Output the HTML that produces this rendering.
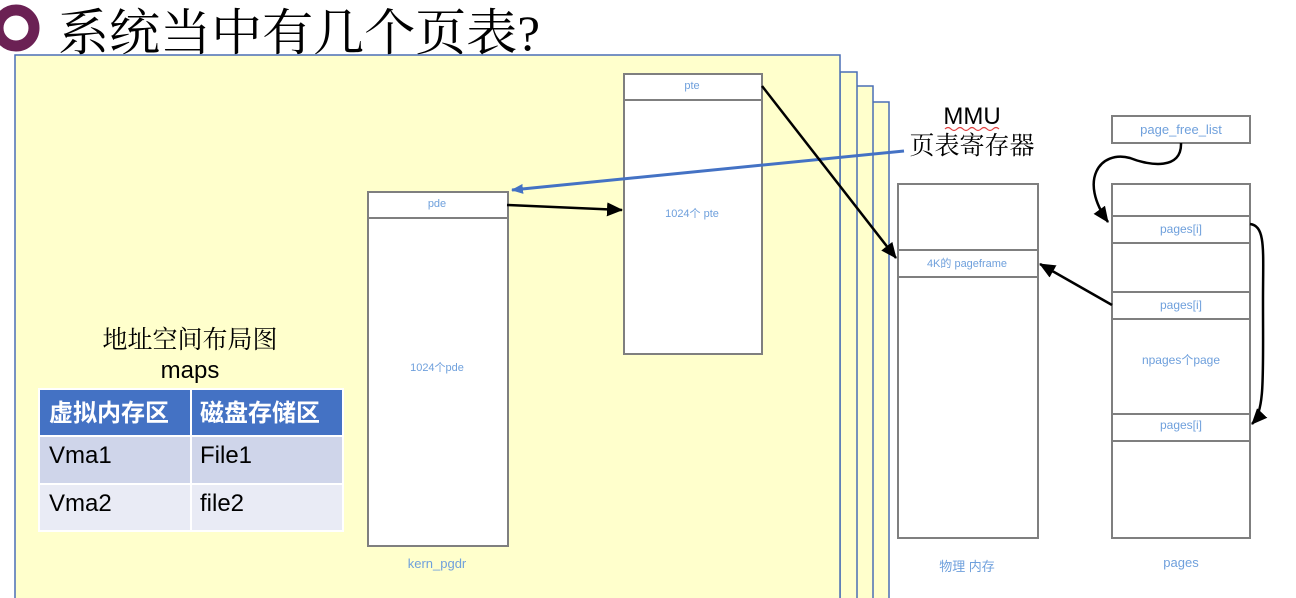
<!DOCTYPE html>
<html><head><meta charset="utf-8"><style>
html,body{margin:0;padding:0;background:#fff;width:1296px;height:598px;overflow:hidden}
svg text{font-family:"Liberation Sans","Noto Sans CJK SC",sans-serif}
svg text.serif{font-family:"Liberation Serif","Noto Serif CJK SC",serif}
svg text.bold{font-family:"Liberation Sans","Noto Sans CJK SC",sans-serif;font-weight:bold}
</style></head><body>
<svg width="1296" height="598" viewBox="0 0 1296 598" xmlns="http://www.w3.org/2000/svg">
<defs>
<marker id="abb" markerWidth="16" markerHeight="14" refX="15" refY="7" orient="auto" markerUnits="userSpaceOnUse"><path d="M0,0 L16,7 L0,14 z" fill="#000"/></marker>
<marker id="ablue" markerWidth="12" markerHeight="10" refX="11" refY="5" orient="auto" markerUnits="userSpaceOnUse"><path d="M0,0 L12,5 L0,10 z" fill="#4472c4"/></marker>
</defs>
<!-- title -->
<circle cx="16" cy="28" r="18" fill="none" stroke="#6b2154" stroke-width="11"/>
<text class="serif" x="58" y="50" font-size="50" textLength="482" lengthAdjust="spacingAndGlyphs" fill="#000">系统当中有几个页表?</text>
<!-- stacked layers -->
<rect x="840" y="102" width="49" height="510" fill="#ffffcc" stroke="#4a6fb5" stroke-width="1.5"/>
<rect x="840" y="86" width="33" height="520" fill="#ffffcc" stroke="#4a6fb5" stroke-width="1.5"/>
<rect x="840" y="72" width="17" height="530" fill="#ffffcc" stroke="#4a6fb5" stroke-width="1.5"/>
<rect x="15" y="55" width="825" height="560" fill="#ffffcc" stroke="#4a6fb5" stroke-width="1.5"/>
<!-- pde box -->
<rect x="368" y="192" width="140" height="354" fill="#fff" stroke="#7f7f7f" stroke-width="2"/>
<line x1="368" y1="218" x2="508" y2="218" stroke="#7f7f7f" stroke-width="2"/>
<g fill="#6fa0dc" font-size="11" text-anchor="middle">
<text x="437" y="207">pde</text>
<text x="437" y="371">1024个pde</text>
<text x="437" y="568" font-size="13">kern_pgdr</text>
</g>
<!-- pte box -->
<rect x="624" y="74" width="138" height="280" fill="#fff" stroke="#7f7f7f" stroke-width="2"/>
<line x1="624" y1="100" x2="762" y2="100" stroke="#7f7f7f" stroke-width="2"/>
<g fill="#6fa0dc" font-size="11" text-anchor="middle">
<text x="692" y="89">pte</text>
<text x="692" y="217">1024个 pte</text>
</g>
<!-- physical -->
<rect x="898" y="184" width="140" height="354" fill="#fff" stroke="#7f7f7f" stroke-width="2"/>
<rect x="898" y="250" width="140" height="27" fill="#fff" stroke="#7f7f7f" stroke-width="2"/>
<g fill="#6fa0dc" font-size="11" text-anchor="middle">
<text x="967" y="267">4K的 pageframe</text>
<text x="967" y="571" font-size="13">物理 内存</text>
</g>
<!-- pages -->
<rect x="1112" y="116" width="138" height="27" fill="#fff" stroke="#7f7f7f" stroke-width="2"/>
<rect x="1112" y="184" width="138" height="354" fill="#fff" stroke="#7f7f7f" stroke-width="2"/>
<rect x="1112" y="216" width="138" height="27" fill="#fff" stroke="#7f7f7f" stroke-width="2"/>
<rect x="1112" y="292" width="138" height="27" fill="#fff" stroke="#7f7f7f" stroke-width="2"/>
<rect x="1112" y="414" width="138" height="27" fill="#fff" stroke="#7f7f7f" stroke-width="2"/>
<g fill="#6fa0dc" font-size="12" text-anchor="middle">
<text x="1181" y="134" font-size="13">page_free_list</text>
<text x="1181" y="233">pages[i]</text>
<text x="1181" y="309">pages[i]</text>
<text x="1181" y="364">npages个page</text>
<text x="1181" y="429">pages[i]</text>
<text x="1181" y="567" font-size="13">pages</text>
</g>
<!-- MMU -->
<text x="972" y="124" font-size="24" text-anchor="middle" fill="#000">MMU</text>
<path d="M945,129 q3,-3 6,0 t6,0 t6,0 t6,0 t6,0 t6,0 t6,0 t6,0 t6,0" fill="none" stroke="#e04040" stroke-width="1.2"/>
<text class="serif" x="972" y="154" font-size="25" text-anchor="middle" fill="#000">页表寄存器</text>
<!-- connectors -->
<line x1="904" y1="151" x2="512" y2="190" stroke="#4472c4" stroke-width="3" marker-end="url(#ablue)"/>
<line x1="507" y1="205" x2="622" y2="210" stroke="#000" stroke-width="2.5" marker-end="url(#abb)"/>
<line x1="762" y1="86" x2="896" y2="258" stroke="#000" stroke-width="2.5" marker-end="url(#abb)"/>
<line x1="1112" y1="305" x2="1040" y2="264" stroke="#000" stroke-width="2.5" marker-end="url(#abb)"/>
<path d="M1181,143 C1182,170 1150,166 1130,158 C1100,150 1078,180 1108,222" fill="none" stroke="#000" stroke-width="2.5" marker-end="url(#abb)"/>
<path d="M1250,224 C1266,226 1263,250 1263,300 C1263,380 1265,410 1252,424" fill="none" stroke="#000" stroke-width="2.5" marker-end="url(#abb)"/>
<!-- maps label -->
<text class="serif" x="190" y="348" font-size="25" text-anchor="middle" fill="#000">地址空间布局图</text>
<text x="190" y="378" font-size="24" text-anchor="middle" fill="#000">maps</text>
<!-- table -->
<rect x="38" y="388" width="306" height="144" fill="#fff"/>
<rect x="40" y="390" width="150" height="45" fill="#4472c4"/>
<rect x="192" y="390" width="150" height="45" fill="#4472c4"/>
<rect x="40" y="437" width="150" height="46" fill="#cfd5ea"/>
<rect x="192" y="437" width="150" height="46" fill="#cfd5ea"/>
<rect x="40" y="485" width="150" height="45" fill="#e9ebf5"/>
<rect x="192" y="485" width="150" height="45" fill="#e9ebf5"/>
<g font-size="24">
<text class="bold" x="49" y="421" fill="#fff">虚拟内存区</text>
<text class="bold" x="200" y="421" fill="#fff">磁盘存储区</text>
<text x="49" y="463" fill="#000">Vma1</text>
<text x="200" y="463" fill="#000">File1</text>
<text x="49" y="511" fill="#000">Vma2</text>
<text x="200" y="511" fill="#000">file2</text>
</g>
</svg>
</body></html>
